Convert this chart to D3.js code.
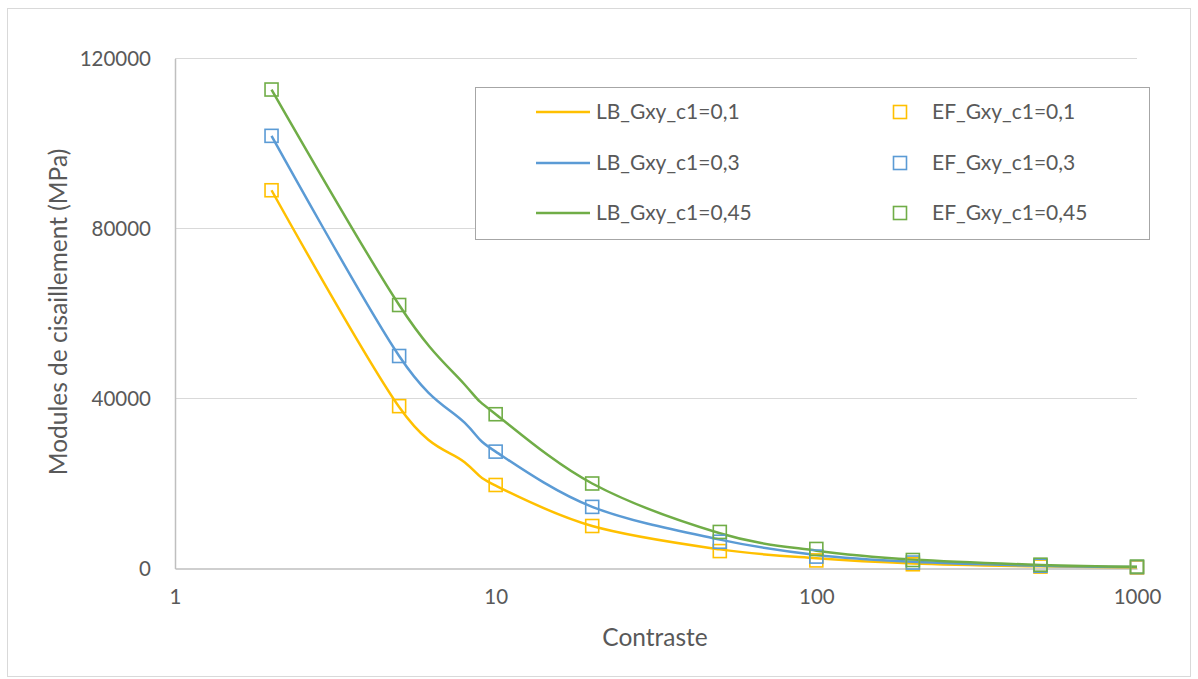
<!DOCTYPE html>
<html><head><meta charset="utf-8">
<script src="https://cdn.jsdelivr.net/npm/d3@7"></script>
<style>body{margin:0;background:#fff}text{font-family:Lato,"Open Sans",sans-serif;fill:#595959}</style>
</head><body>
<svg id="c" width="1198" height="679"></svg>
<script>
// Data
const lbX = [2, 5, 8, 10, 20, 50, 100, 200, 500, 1000];
const lb01 = [89000, 38000, 25000, 19500, 10000, 4500, 2400, 1200, 500, 250];
const lb03 = [101800, 50000, 34300, 27500, 14500, 6800, 3200, 1600, 650, 330];
const lb045 = [112700, 62000, 43300, 36300, 20000, 8300, 4200, 2100, 850, 430];
const efX = [2, 5, 10, 20, 50, 100, 200, 500, 1000];
const ef01 = [89000, 38200, 19650, 10000, 4100, 1900, 1000, 450, 220];
const ef03 = [101800, 50000, 27500, 14500, 6300, 2800, 1400, 650, 330];
const ef045 = [112700, 62000, 36300, 20000, 8600, 4600, 2000, 900, 450];
const seriesNames = ["LB_Gxy_c1=0,1", "LB_Gxy_c1=0,3", "LB_Gxy_c1=0,45", "EF_Gxy_c1=0,1", "EF_Gxy_c1=0,3", "EF_Gxy_c1=0,45"];
const xTicks = [1, 10, 100, 1000];
const yTicks = [0, 40000, 80000, 120000];
const colors = ["#FFC000", "#5B9BD5", "#70AD47"];

const svg = d3.select("#c");
svg.append("rect").attr("x", 7.5).attr("y", 8.5).attr("width", 1183).attr("height", 668)
  .attr("fill", "#fff").attr("stroke", "#d9d9d9");

const x = d3.scaleLog().domain([1, 1000]).range([175, 1137]);
const y = d3.scaleLinear().domain([0, 120000]).range([568.5, 58.5]);

// gridlines
svg.append("g").selectAll("line").data(yTicks.filter(d => d > 0)).join("line")
  .attr("x1", 175).attr("x2", 1137).attr("y1", d => y(d)).attr("y2", d => y(d))
  .attr("stroke", "#d9d9d9").attr("stroke-width", 1);

// axes
const yAxis = svg.append("g").attr("transform", "translate(175,0)")
  .call(d3.axisLeft(y).tickValues(yTicks).tickSize(0).tickPadding(24).tickFormat(d3.format("d")));
yAxis.select(".domain").attr("stroke", "#bfbfbf").attr("stroke-width", 1.5);
yAxis.selectAll("text").attr("font-size", 20.5).attr("fill", "#595959").attr("font-family", "Lato");

const xAxis = svg.append("g").attr("transform", "translate(0,568.5)")
  .call(d3.axisBottom(x).tickValues(xTicks).tickSize(0).tickPadding(21).tickFormat(d3.format("d")));
xAxis.select(".domain").attr("stroke", "#bfbfbf").attr("stroke-width", 1.5);
xAxis.selectAll("text").attr("font-size", 20.5).attr("fill", "#595959").attr("font-family", "Lato");

// axis titles
svg.append("text").attr("x", 655).attr("y", 646).attr("text-anchor", "middle")
  .attr("font-size", 24.5).text("Contraste");
svg.append("text").attr("transform", "translate(67,312) rotate(-90)").attr("text-anchor", "middle")
  .attr("font-size", 24.5).text("Modules de cisaillement (MPa)");

const line = d3.line().x(d => x(d[0])).y(d => y(d[1])).curve(d3.curveCardinal.tension(0));
const lbs = [lb01, lb03, lb045];
const efs = [ef01, ef03, ef045];
lbs.forEach((vals, i) => {
  svg.append("path").datum(lbX.map((v, j) => [v, vals[j]]))
    .attr("d", line).attr("fill", "none").attr("stroke", colors[i]).attr("stroke-width", 2.5);
});
const ms = 13;
efs.forEach((vals, i) => {
  svg.append("g").selectAll("rect").data(efX.map((v, j) => [v, vals[j]])).join("rect")
    .attr("x", d => x(d[0]) - ms / 2).attr("y", d => y(d[1]) - ms / 2)
    .attr("width", ms).attr("height", ms).attr("fill", "none")
    .attr("stroke", colors[i]).attr("stroke-width", 1.6);
});

// legend
svg.append("rect").attr("x", 475.5).attr("y", 87.5).attr("width", 674).attr("height", 152)
  .attr("fill", "#fff").attr("stroke", "#a6a6a6").attr("stroke-width", 1);
const rowsY = [112, 163, 213];
[0, 1, 2].forEach(i => {
  svg.append("line").attr("x1", 536).attr("x2", 590).attr("y1", rowsY[i]).attr("y2", rowsY[i])
    .attr("stroke", colors[i]).attr("stroke-width", 2.5);
  svg.append("text").attr("x", 596).attr("y", rowsY[i]).attr("dy", "0.35em")
    .attr("font-size", 21).text(seriesNames[i]);
  svg.append("rect").attr("x", 900 - 6.5).attr("y", rowsY[i] - 6.5).attr("width", 13).attr("height", 13)
    .attr("fill", "none").attr("stroke", colors[i]).attr("stroke-width", 1.6);
  svg.append("text").attr("x", 932).attr("y", rowsY[i]).attr("dy", "0.35em")
    .attr("font-size", 21).text(seriesNames[i + 3]);
});
</script>
</body></html>
